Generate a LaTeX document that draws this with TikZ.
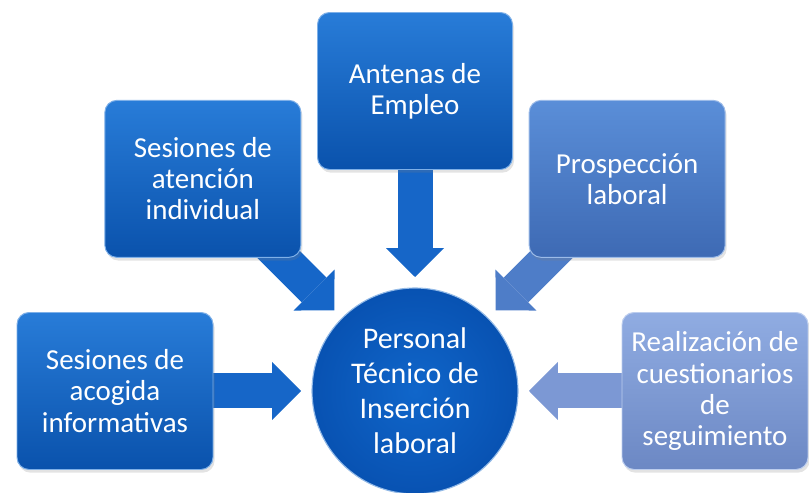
\documentclass[tikz,border=0pt]{standalone}
\usepackage{fontspec}
\setmainfont{Carlito}
\usepackage{tikz}
\usetikzlibrary{positioning,arrows.meta,shadows,backgrounds}

\definecolor{azulA}{RGB}{40,124,216}
\definecolor{azulB}{RGB}{10,82,172}
\definecolor{medA}{RGB}{90,142,216}
\definecolor{medB}{RGB}{62,106,180}
\definecolor{claroA}{RGB}{144,172,226}
\definecolor{claroB}{RGB}{108,136,196}
\definecolor{circA}{RGB}{16,102,202}
\definecolor{circB}{RGB}{8,82,178}
\definecolor{flechaA}{RGB}{22,102,200}
\definecolor{flechaM}{RGB}{78,125,200}
\definecolor{flechaC}{RGB}{124,152,212}

\tikzset{node distance=7.5cm, auto}
\tikzset{caja/.style={rectangle, rounded corners=0.3cm, minimum width=4.9cm,
           minimum height=3.925cm, inner sep=0pt, align=center, text=white,
           font=\fontsize{20.6}{22.1}\selectfont, line width=0.7pt,
           drop shadow={opacity=0.22, shadow xshift=0.04cm, shadow yshift=-0.08cm}},
         oscura/.style={caja, draw=azulA!60!white, top color=azulA, bottom color=azulB},
         media/.style={caja, draw=medA!60!white, top color=medA, bottom color=medB},
         clara/.style={caja, draw=claroA!60!white, top color=claroA, bottom color=claroB},
         flecha/.style={line width=0.875cm,
           -{Triangle[length=0.72cm, width=1.45cm, line width=0pt]},
           shorten >=2.85cm}}

\begin{document}
\begin{tikzpicture}

             \useasboundingbox (0,0) rectangle (20.225,12.325);

             \node (P) [circle, minimum size=5.15cm, inner sep=0pt, align=center,
                        text=white, font=\fontsize{21.3}{24.9}\selectfont,
                        inner color=circA, outer color=circB, draw=circA!45!white,
                        line width=0.8pt] at (10.375,2.55)
                        {Personal\\Técnico de\\Inserción\\laboral};

             \node (SA) [oscura, left of=P] {Sesiones de\\acogida\\informativas};
             \node (SI) [oscura, above left of=P] {Sesiones de\\atención\\individual};
             \node (AE) [oscura, above of=P, minimum width=4.875cm] {Antenas de\\Empleo};
             \node (PL) [media, above right of=P] {Prospección\\laboral};
             \node (RC) [clara, right of=P, minimum width=4.65cm]
                        {Realización de\\cuestionarios\\de\\seguimiento};

             \begin{scope}[on background layer]
             \draw [flecha, flechaA] (SA.center) -- (P.center);
             \draw [flecha, flechaA] (SI.center) -- (P.center);
             \draw [flecha, flechaA] (AE.center) -- (P.center);
             \draw [flecha, flechaM] (PL.center) -- (P.center);
             \draw [flecha, flechaC] (RC.center) -- (P.center);
             \end{scope}
          \end{tikzpicture}
\end{document}
